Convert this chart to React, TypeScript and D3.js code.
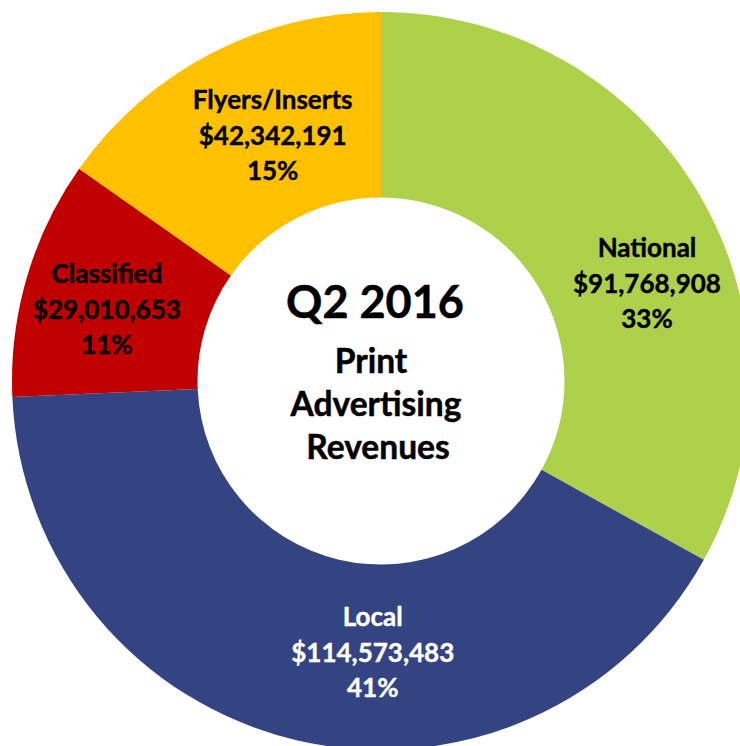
import React from 'react';
import * as d3 from 'd3';

// Q2 2016 print advertising revenue by category
const categories = ['National', 'Local', 'Classified', 'Flyers/Inserts'];
const revenues = [91768908, 114573483, 29010653, 42342191];
const percentLabels = ['33%', '41%', '11%', '15%'];
const colors = ['#add14b', '#344483', '#c00000', '#ffc000'];
const textColors = ['#000', '#fff', '#000', '#000'];
// nudges of each label from its slice centroid (middle line baseline)
const labelOffsets: [number, number][] = [[28, 52], [55, 12], [-9, 15.5], [19, 9]];

const width = 740;
const height = 746;
const cx = 381;
const cy = 381;
const outerR = 369;
const innerR = 183.5;
const lineGap = 35.5;
const font = 'Lato, "Open Sans", sans-serif';

const App: React.FC = () => {
  const pie = d3.pie<number>().sort(null).value(d => d);
  const arcs = pie(revenues);
  const arc = d3.arc<d3.PieArcDatum<number>>().innerRadius(innerR).outerRadius(outerR);
  const money = d3.format('$,');

  return (
    <svg width={width} height={height} style={{ position: 'absolute', left: 0, top: 0, background: '#fff' }}>
      <g transform={`translate(${cx},${cy})`}>
        {arcs.map((a, i) => (
          <path key={categories[i]} d={arc(a) || ''} fill={colors[i]} />
        ))}
        {arcs.map((a, i) => {
          const [x, y] = arc.centroid(a);
          const lx = x + labelOffsets[i][0];
          const ly = y + labelOffsets[i][1];
          const lines = [categories[i], money(revenues[i]), percentLabels[i]];
          return (
            <text key={'l' + i} x={lx} y={ly} textAnchor="middle" fill={textColors[i]}
              fontFamily={font} fontWeight="bold" fontSize={26} stroke={textColors[i]} strokeWidth={0.4}>
              {lines.map((t, j) => (
                <tspan key={j} x={lx} y={ly + (j - 1) * lineGap}>{t}</tspan>
              ))}
            </text>
          );
        })}
      </g>
      <g fontFamily={font} fontWeight="bold" fill="#000" stroke="#000" strokeWidth={0.5} textAnchor="middle">
        <text x={375} y={318} fontSize={45}>Q2 2016</text>
        <text x={371} y={373} fontSize={33.5}>Print</text>
        <text x={376} y={416} fontSize={33.5}>Advertising</text>
        <text x={378} y={459} fontSize={33.5}>Revenues</text>
      </g>
    </svg>
  );
};

export default App;
